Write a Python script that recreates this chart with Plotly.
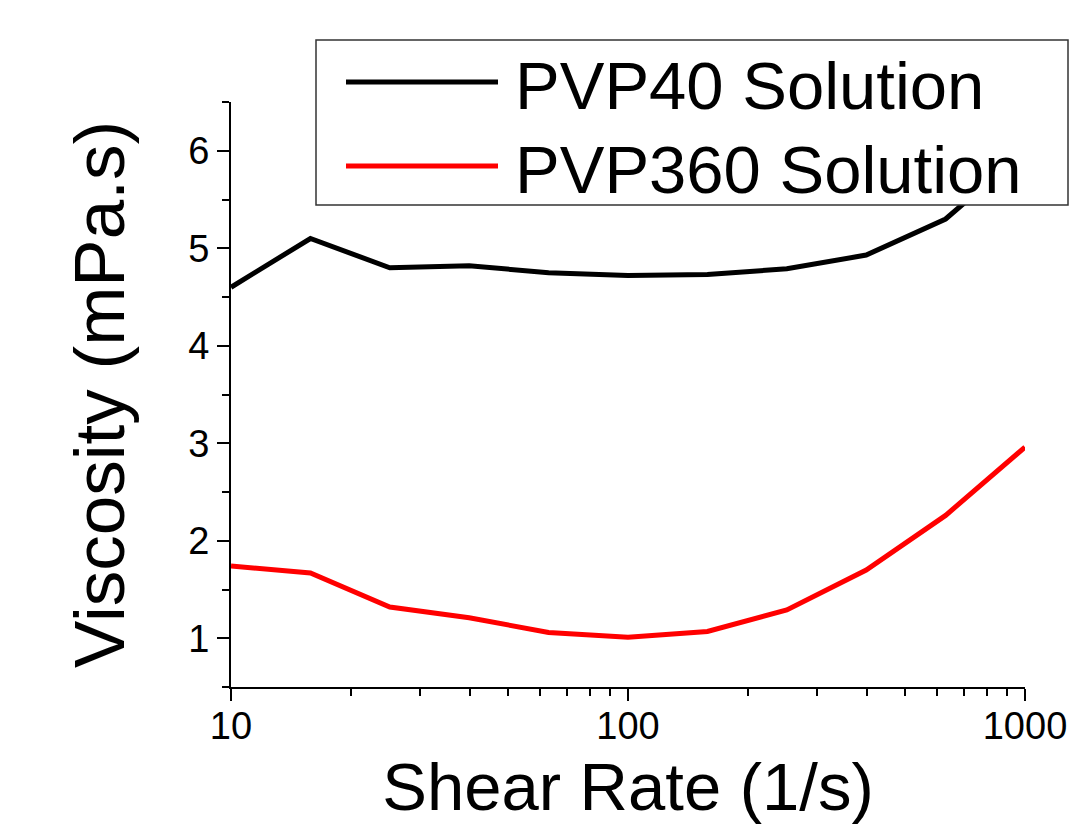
import plotly.graph_objects as go

shear_rate = [10, 15.85, 25.12, 39.81, 63.1, 100, 158.5, 251.2, 398.1, 631, 1000]
pvp40 = [4.60, 5.10, 4.80, 4.82, 4.75, 4.72, 4.73, 4.79, 4.93, 5.30, 6.00]
pvp360 = [1.74, 1.67, 1.32, 1.21, 1.06, 1.01, 1.07, 1.29, 1.70, 2.26, 2.96]
series_names = ["PVP40 Solution", "PVP360 Solution"]
series_colors = ["black", "#ff0000"]

W, H = 1070, 828
L, R, T, B = 231, 45, 102, 141
pw, ph = W - L - R, H - T - B

def px(x):
    return (x - L) / pw

def py(y):
    return (H - B - y) / ph

fig = go.Figure()
for name, vals, col in zip(series_names, [pvp40, pvp360], series_colors):
    fig.add_trace(go.Scatter(x=shear_rate, y=vals, mode="lines", name=name,
                             line=dict(color=col, width=5), showlegend=False))

FONT = "Liberation Sans, Arial, sans-serif"

axis_common = dict(
    showline=True, linecolor="black", linewidth=2, mirror=False,
    ticks="outside", ticklen=12, tickwidth=2, tickcolor="black",
    showgrid=False, zeroline=False,
    tickfont=dict(family=FONT, size=38, color="black"),
)

fig.update_xaxes(type="log", range=[1, 3], tickvals=[10, 100, 1000],
                 ticktext=["10", "100", "1000"], ticklabelstandoff=-8,
                 minor=dict(ticks="outside", ticklen=7, tickwidth=2, tickcolor="black",
                            dtick="D1", showgrid=False),
                 title=dict(text="Shear Rate (1/s)", font=dict(family=FONT, size=67, color="black"),
                            standoff=18),
                 **axis_common)
fig.update_yaxes(range=[0.5, 6.5], tickvals=[1, 2, 3, 4, 5, 6],
                 minor=dict(ticks="outside", ticklen=7, tickwidth=2, tickcolor="black",
                            dtick=0.5, showgrid=False),
                 title=dict(text="Viscosity (mPa.s)", font=dict(family=FONT, size=71, color="black"),
                            standoff=40),
                 **axis_common)

# Legend box drawn over the plot
shapes = [dict(type="rect", xref="paper", yref="paper",
               x0=px(316), x1=px(1068), y0=py(205), y1=py(40),
               line=dict(color="#333333", width=1.5), fillcolor="white", layer="above")]
annotations = []
for i, (name, col) in enumerate(zip(series_names, series_colors)):
    ly = [82, 166][i]
    shapes.append(dict(type="line", xref="paper", yref="paper",
                       x0=px(346), x1=px(498), y0=py(ly), y1=py(ly),
                       line=dict(color=col, width=5), layer="above"))
    annotations.append(dict(xref="paper", yref="paper", x=px(513), y=py(ly + 3),
                            xanchor="left", yanchor="middle", showarrow=False,
                            text=name, font=dict(family=FONT, size=67, color="black")))

fig.update_layout(
    width=W, height=H,
    margin=dict(l=L, r=R, t=T, b=B, autoexpand=False),
    paper_bgcolor="white", plot_bgcolor="white",
    shapes=shapes, annotations=annotations, showlegend=False,
)

fig.write_html("out.html")
